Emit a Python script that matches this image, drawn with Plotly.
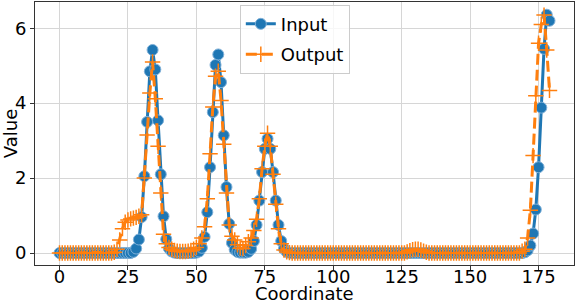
import plotly.graph_objects as go

coordinate = list(range(180))

input_values = (
    [0.0] * 27
    + [0.03, 0.12, 0.36, 0.96, 2.05, 3.5, 4.85, 5.42, 4.9, 3.54, 2.1, 0.98, 0.37, 0.12, 0.04, 0.01]
    + [0.0] * 7
    + [0.01, 0.04, 0.14, 0.43, 1.09, 2.29, 3.76, 5.02, 5.3, 4.56, 3.14, 1.76, 0.78, 0.27, 0.09,
       0.03, 0.01, 0.01, 0.01, 0.03, 0.11, 0.32, 0.75, 1.4, 2.16, 2.78, 3.05, 2.78, 2.16, 1.4,
       0.75, 0.32, 0.11, 0.03, 0.01]
    + [0.0] * 85
    + [0.02, 0.07, 0.2, 0.52, 1.16, 2.29, 3.88, 5.45, 6.36, 6.2]
)

output_values = (
    [0.0] * 20
    + [0.02, 0.1, 0.35, 0.65, 0.82, 0.88, 0.91, 0.93, 0.95, 0.98, 1.02, 2.0, 3.15, 4.27, 5.1,
       4.12, 2.85, 1.6, 0.5, 0.25, 0.15, 0.1, 0.07, 0.05, 0.04, 0.04, 0.04, 0.05, 0.07, 0.1,
       0.15, 0.25, 0.4, 0.7, 1.45, 2.65, 3.9, 4.72, 4.85, 4.07, 2.9, 1.6, 0.75, 0.45, 0.35,
       0.22, 0.13, 0.12, 0.2, 0.3, 0.4, 0.6, 0.9, 1.45, 2.25, 2.85, 3.2, 2.85, 2.1, 1.3,
       0.65, 0.25, 0.08, 0.03, 0.01]
    + [0.0] * 42
    + [0.03, 0.06, 0.09, 0.1, 0.1, 0.08, 0.05, 0.02]
    + [0.0] * 34
    + [0.05, 0.1, 0.4, 1.14, 2.6, 4.2, 5.6, 6.1, 6.35, 5.42, 4.34]
)

assert len(input_values) == 180 and len(output_values) == 180

x_ticks = [0, 25, 50, 75, 100, 125, 150, 175]
y_ticks = [0, 2, 4, 6]
x_title = "Coordinate"
y_title = "Value"

FONT = "DejaVu Sans"

fig = go.Figure()
fig.add_trace(go.Scatter(
    x=coordinate, y=input_values, name="Input", mode="lines+markers",
    line=dict(color="#1f77b4", width=3),
    marker=dict(symbol="circle", size=11, color="#1f77b4",
                line=dict(color="#7fb0d8", width=1)),
    legendgroup="a",
))
fig.add_trace(go.Scatter(
    x=coordinate, y=output_values, name="Output", mode="lines+markers",
    line=dict(color="#ff7f0e", width=3, dash="11px,5px"),
    marker=dict(symbol="cross-thin", size=11, color="#ff7f0e",
                line=dict(color="#ff7f0e", width=1.5)),
    legendgroup="b",
))

axis_common = dict(
    showline=True, mirror=True, linecolor="#333333", linewidth=1,
    ticks="outside", ticklen=4, tickcolor="#333333",
    showgrid=True, gridcolor="#d6d6d6", gridwidth=1,
    zeroline=False,
    tickfont=dict(family=FONT, size=18, color="black"),
)

fig.update_layout(
    width=576, height=304,
    margin=dict(l=35, r=2, t=2, b=39),
    paper_bgcolor="white", plot_bgcolor="white",
    font=dict(family=FONT, size=18, color="black"),
    xaxis=dict(range=[-8.95, 187.95], tickvals=x_ticks,
               ticklabelstandoff=-9,
               automargin=False, **axis_common),
    yaxis=dict(range=[-0.32, 6.70], tickvals=y_ticks,
               title=dict(text=y_title, font=dict(family=FONT, size=18), standoff=0),
               automargin=False, **axis_common),
    legend=dict(x=0.38, y=0.99, xanchor="left", yanchor="top",
                bgcolor="rgba(255,255,255,0.8)", bordercolor="#cccccc", borderwidth=1,
                font=dict(family=FONT, size=18), tracegroupgap=4,
                traceorder="grouped"),
    showlegend=True,
    annotations=[dict(text=x_title, xref="paper", yref="paper", x=0.5, y=0,
                      xanchor="center", yanchor="top", yshift=-17, showarrow=False,
                      borderpad=0,
                      font=dict(family=FONT, size=18, color="black"))],
)

fig.write_html("out.html", config={"displayModeBar": False},
               post_script="document.body.style.margin='0';")
